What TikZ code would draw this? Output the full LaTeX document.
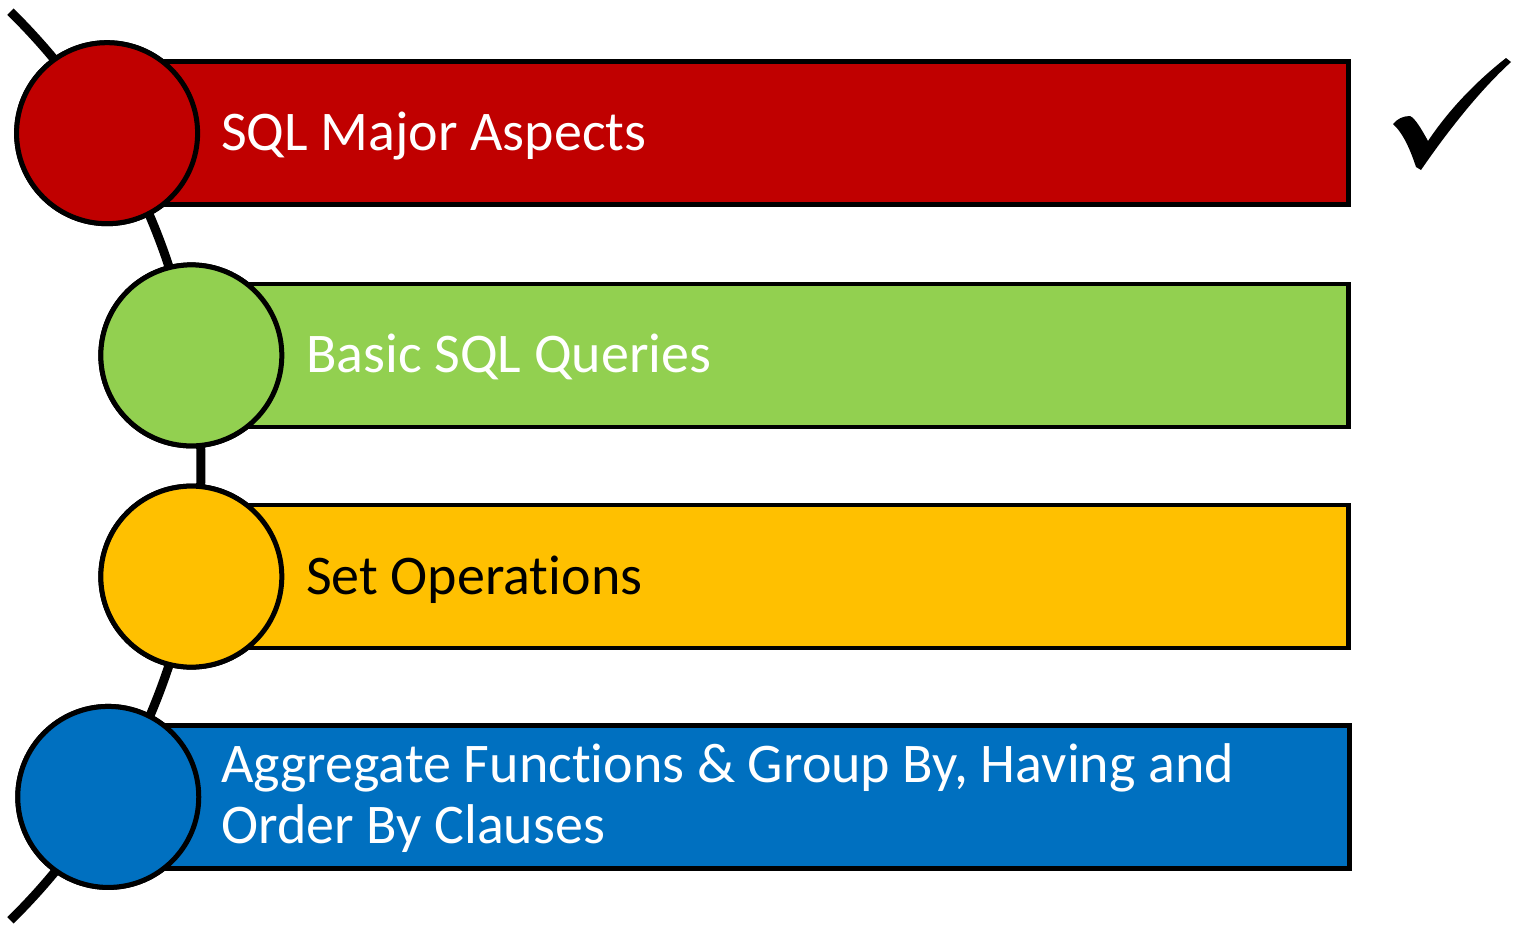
\documentclass[tikz,border=0pt]{standalone}
\usepackage{fontspec}
\setmainfont{Carlito}[Ligatures=NoCommon]
\usepackage{tikz}
\usetikzlibrary{positioning,calc}

\definecolor{sqlred}{HTML}{C00000}
\definecolor{sqlgreen}{HTML}{92D050}
\definecolor{sqlyellow}{HTML}{FFC000}
\definecolor{sqlblue}{HTML}{0070C0}

\begin{document}
\begin{tikzpicture}[x=1pt,y=-1pt,
        spine/.style={line width=9pt},
        dot/.style={circle, draw, line width=5pt, minimum size=181pt, inner sep=0pt},
        bar/.style={rectangle, draw, line width=4.5pt, minimum height=143pt, inner sep=0pt, anchor=west},
        lbl/.style={anchor=base west, inner sep=0pt, align=left,
            font=\fontsize{56}{61}\selectfont}]
            \useasboundingbox (0,0) rectangle (1514,926);
            \coordinate (hub) at (-436,466);

            \node[dot, fill=sqlred]    (c1) at ($(hub)+(-31.5:637)$) {};
            \node[dot, fill=sqlgreen]  (c2) at ($(hub)+(-10:637)$)   {};
            \node[dot, fill=sqlyellow] (c3) at ($(hub)+(10:637)$)    {};
            \node[dot, fill=sqlblue]   (c4) at ($(hub)+(31.3:637)$)  {};

            \coordinate (arctop) at ($(hub)+(-45.5:637)$);
            \draw[spine] (arctop) arc[start angle=-45.5, end angle=45.5, radius=637];

            \node[bar, fill=sqlred,    minimum width=1239pt] (b1) at (c1.center) {};
            \node[bar, fill=sqlgreen,  minimum width=1155pt] (b2) at (c2.center) {};
            \node[bar, fill=sqlyellow, minimum width=1155pt] (b3) at (c3.center) {};
            \node[bar, fill=sqlblue,   minimum width=1239pt] (b4) at (c4.center) {};

            \node[dot, fill=sqlred]    at (c1) {};
            \node[dot, fill=sqlgreen]  at (c2) {};
            \node[dot, fill=sqlyellow] at (c3) {};
            \node[dot, fill=sqlblue]   at (c4) {};

            \node[lbl, text=white] (t1) at (221,150) {SQL Major Aspects};
            \node[lbl, text=white] (t2) at (306,372) {Basic SQL Queries};
            \node[lbl, text=black] (t3) at (306,594) {Set Operations};
            \node[lbl, text=white] (t4) at (221,843) {Aggregate Functions \& Group By, Having and\\Order By Clauses};

            \fill (1393,124) .. controls (1397,119) and (1403,116) .. (1410,116)
                .. controls (1415,118) and (1422,130) .. (1428,141)
                .. controls (1450,108) and (1478,80) .. (1506,58)
                -- (1511,62)
                .. controls (1478,92) and (1445,135) .. (1421,170)
                -- (1416,167)
                .. controls (1411,152) and (1404,134) .. (1393,124) -- cycle;
        \end{tikzpicture}
\end{document}
